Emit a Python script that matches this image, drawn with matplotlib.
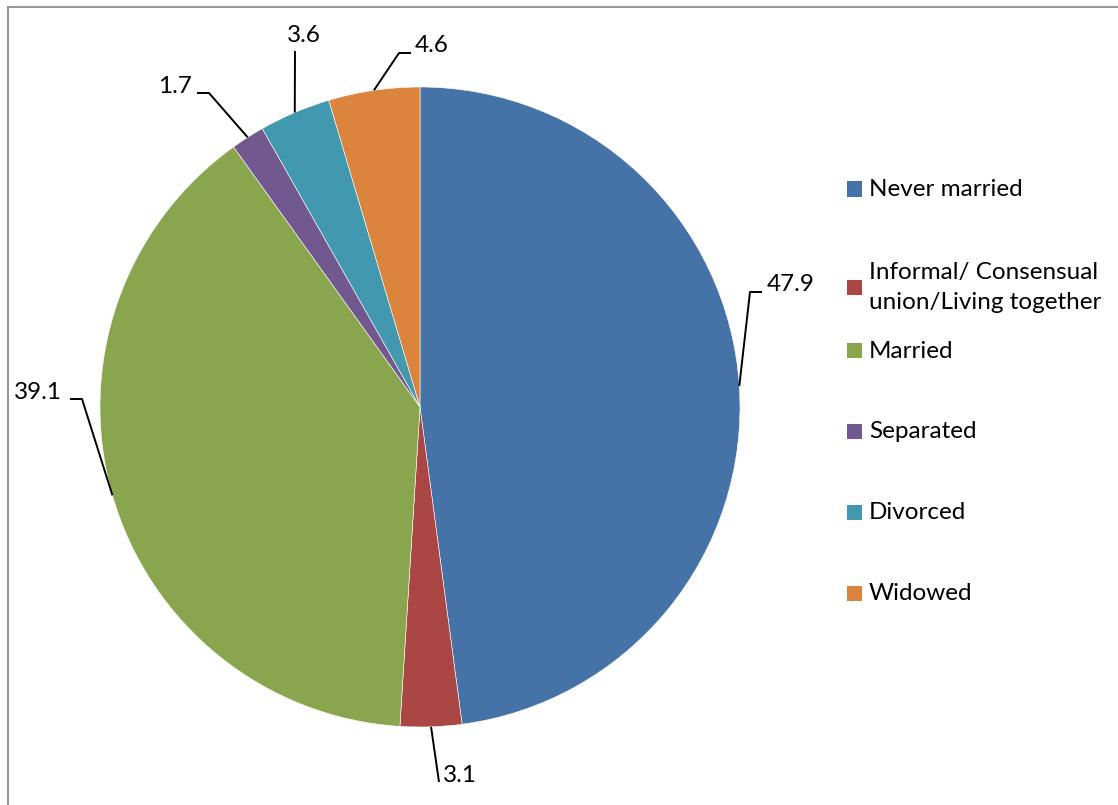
import numpy as np
import matplotlib
matplotlib.use("Agg")
import matplotlib.pyplot as plt
from matplotlib.patches import Rectangle
from matplotlib.lines import Line2D

categories = ["Never married", "Informal/ Consensual\nunion/Living together",
              "Married", "Separated", "Divorced", "Widowed"]
values = [47.9, 3.1, 39.1, 1.7, 3.6, 4.6]
value_labels = ["47.9", "3.1", "39.1", "1.7", "3.6", "4.6"]
colors = ["#4572A7", "#AA4643", "#89A54E", "#71588F", "#4198AF", "#DB843D"]

W, H = 1118, 805
DPI = 100
plt.rcParams['font.family'] = ['Lato', 'DejaVu Sans']

fig = plt.figure(figsize=(W / DPI, H / DPI), dpi=DPI)

# chart frame (only top/left visible in reference)
fig.add_artist(Line2D([8 / W, 8 / W], [0, 1 - 7 / H], transform=fig.transFigure,
                      color="#8c8c8c", lw=1.3))
fig.add_artist(Line2D([8 / W, 1], [1 - 7 / H, 1 - 7 / H], transform=fig.transFigure,
                      color="#8c8c8c", lw=1.3))

cx, cy, R = 420, 407, 320
ax = fig.add_axes([(cx - R) / W, (H - cy - R) / H, 2 * R / W, 2 * R / H])
wedges, _ = ax.pie(values, colors=colors, startangle=90, counterclock=False,
                   radius=1.0, wedgeprops=dict(edgecolor="white", linewidth=0.4))
ax.set_xlim(-1, 1)
ax.set_ylim(-1, 1)
ax.set_aspect('equal')
ax.axis('off')


def px(x, y):
    return ((x - cx) / R, (cy - y) / R)

# leader line layout: (elbow points in px, text anchor in px, ha)
layout = [
    ([(750, 292), (762, 292)], (767, 284), 'left'),
    ([(439, 782)], (443, 775), 'left'),
    ([(82, 399), (70, 399)], (62, 392), 'right'),
    ([(209, 93), (197, 93)], (192, 86), 'right'),
    ([(295, 51)], (304, 35), 'center'),
    ([(399, 53), (411, 53)], (415, 45), 'left'),
]

FS = 17.5
for w, lab, (pts, tpos, ha) in zip(wedges, value_labels, layout):
    ang = np.deg2rad((w.theta1 + w.theta2) / 2)
    ex, ey = np.cos(ang), np.sin(ang)
    xs = [ex] + [px(*p)[0] for p in pts]
    ys = [ey] + [px(*p)[1] for p in pts]
    ax.plot(xs, ys, color="black", lw=1.4, clip_on=False, solid_capstyle='butt')
    tx, ty = px(*tpos)
    ax.text(tx, ty, lab, ha=ha, va='center', fontsize=FS, color="black", clip_on=False)

# legend (manual, to mimic spacing)
legend_y = [189, 287.5, 351, 432, 512, 593]
for c, name, ly in zip(colors, categories, legend_y):
    fig.add_artist(Rectangle((847 / W, 1 - (ly + 7.5) / H), 15 / W, 15 / H,
                             transform=fig.transFigure, facecolor=c, edgecolor='none'))
    fig.text(869 / W, 1 - ly / H, name, ha='left', va='center', fontsize=FS,
             color="black", linespacing=1.55)

fig.savefig("out.png", dpi=DPI, facecolor="white")
